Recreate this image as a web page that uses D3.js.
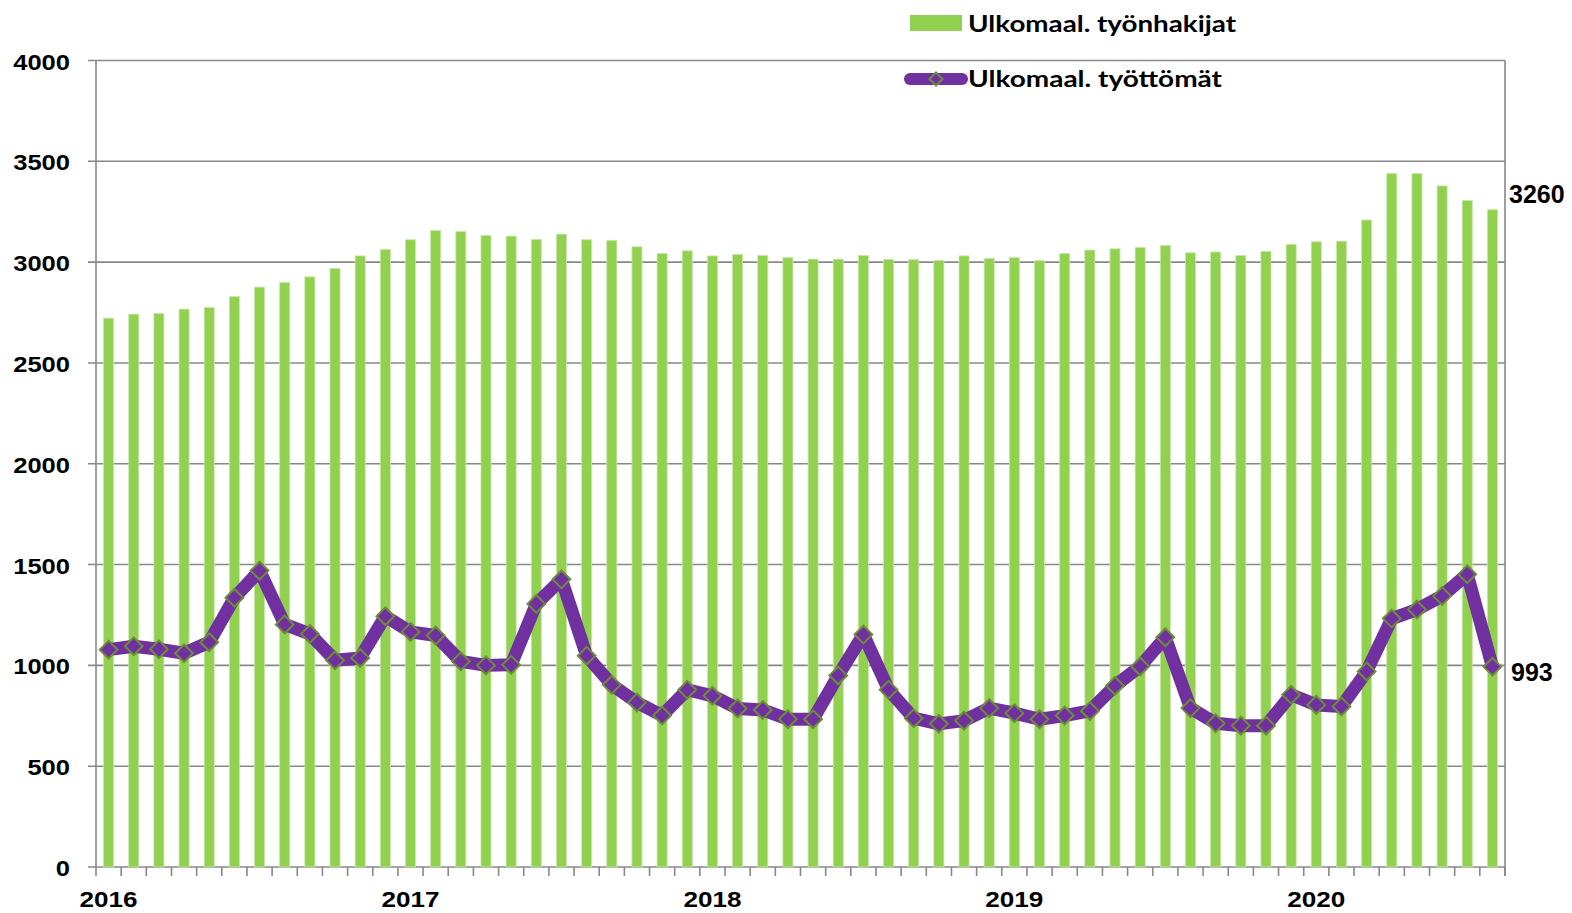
<!DOCTYPE html>
<html>
<head>
<meta charset="utf-8">
<script src="https://cdn.jsdelivr.net/npm/d3@7"></script>
<style>
  body { margin: 0; background: #fff; }
  text { font-family: "Liberation Sans", Arial, sans-serif; font-weight: bold; }
</style>
</head>
<body>
<script>
// months 2016/1 .. 2020/8
const months = [
  "2016/1", "2016/2", "2016/3", "2016/4", "2016/5", "2016/6", "2016/7", "2016/8", "2016/9", "2016/10", "2016/11", "2016/12",
  "2017/1", "2017/2", "2017/3", "2017/4", "2017/5", "2017/6", "2017/7", "2017/8", "2017/9", "2017/10", "2017/11", "2017/12",
  "2018/1", "2018/2", "2018/3", "2018/4", "2018/5", "2018/6", "2018/7", "2018/8", "2018/9", "2018/10", "2018/11", "2018/12",
  "2019/1", "2019/2", "2019/3", "2019/4", "2019/5", "2019/6", "2019/7", "2019/8", "2019/9", "2019/10", "2019/11", "2019/12",
  "2020/1", "2020/2", "2020/3", "2020/4", "2020/5", "2020/6", "2020/7", "2020/8"
];
const yearLabels = ["2016", "2017", "2018", "2019", "2020"];
const yTicks = [0, 500, 1000, 1500, 2000, 2500, 3000, 3500, 4000];

// Ulkomaal. työnhakijat (bars)
const hakijat = [
  2722, 2742, 2745, 2767, 2775, 2829, 2876, 2899, 2927, 2969, 3031, 3063,
  3111, 3157, 3152, 3132, 3129, 3113, 3139, 3111, 3108, 3076, 3043, 3056,
  3031, 3038, 3033, 3022, 3015, 3015, 3033, 3013, 3013, 3008, 3031, 3018,
  3022, 3007, 3043, 3060, 3066, 3073, 3083, 3046, 3050, 3033, 3053, 3088,
  3101, 3104, 3209, 3440, 3439, 3378, 3306, 3260
];
// Ulkomaal. työttömät (line)
const tyottomat = [
  1078, 1095, 1080, 1060, 1115, 1335, 1470, 1203, 1156, 1025, 1037, 1244,
  1166, 1148, 1020, 1000, 1003, 1305, 1427, 1048, 904, 816, 751, 879,
  849, 786, 779, 733, 733, 950, 1153, 879, 738, 710, 726, 788,
  763, 733, 751, 774, 899, 995, 1139, 788, 713, 701, 701, 854,
  804, 796, 970, 1232, 1277, 1344, 1452, 993
];

const width = 1572, height = 913;
const plotLeft = 96, plotRight = 1505, plotTop = 60.5, plotBottom = 867;
const gridColor = "#888888";

let svg = d3.select("body").append("svg")
  .attr("width", width)
  .attr("height", height);

let x = d3.scaleBand()
  .domain(months)
  .range([plotLeft, plotRight])
  .paddingInner(0.6)
  .paddingOuter(0.3);

let y = d3.scaleLinear()
  .domain([0, 4000])
  .range([plotBottom, plotTop]);

// gridlines
svg.append("g")
  .selectAll("line")
  .data(yTicks)
  .enter()
  .append("line")
  .attr("x1", plotLeft - 8)
  .attr("x2", plotRight)
  .attr("y1", d => y(d))
  .attr("y2", d => y(d))
  .attr("stroke", gridColor)
  .attr("stroke-width", 1.6);

// y labels
svg.append("g")
  .selectAll("text")
  .data(yTicks)
  .enter()
  .append("text")
  .attr("x", 70)
  .attr("y", d => y(d) + 9)
  .attr("text-anchor", "end")
  .attr("font-size", 22)
  .attr("textLength", d => String(d).length * 14.2)
  .attr("lengthAdjust", "spacingAndGlyphs")
  .text(d => d);

// bars
svg.append("g")
  .selectAll("rect")
  .data(hakijat)
  .enter()
  .append("rect")
  .attr("x", (d, i) => x(months[i]))
  .attr("width", x.bandwidth())
  .attr("y", d => y(d))
  .attr("height", d => y(0) - y(d))
  .attr("fill", "#92D050")
  .attr("stroke", "#C8E8A8")
  .attr("stroke-width", 0.8);

// axes frame
svg.append("line")
  .attr("x1", plotLeft).attr("x2", plotLeft)
  .attr("y1", plotTop).attr("y2", plotBottom)
  .attr("stroke", gridColor).attr("stroke-width", 1.6);
svg.append("line")
  .attr("x1", plotRight).attr("x2", plotRight)
  .attr("y1", plotTop).attr("y2", plotBottom + 9)
  .attr("stroke", gridColor).attr("stroke-width", 1.6);

// x tick marks at month boundaries
let step = x.step();
svg.append("g")
  .selectAll("line")
  .data(d3.range(months.length + 1))
  .enter()
  .append("line")
  .attr("x1", i => plotLeft + i * step)
  .attr("x2", i => plotLeft + i * step)
  .attr("y1", plotBottom)
  .attr("y2", plotBottom + 9)
  .attr("stroke", gridColor)
  .attr("stroke-width", 1.6);

// year labels under January
svg.append("g")
  .selectAll("text")
  .data(yearLabels)
  .enter()
  .append("text")
  .attr("x", d => x(d + "/1") + x.bandwidth() / 2)
  .attr("y", 907)
  .attr("text-anchor", "middle")
  .attr("font-size", 22)
  .attr("textLength", 58)
  .attr("lengthAdjust", "spacingAndGlyphs")
  .text(d => d);

// line
let line = d3.line()
  .x((d, i) => x(months[i]) + x.bandwidth() / 2)
  .y(d => y(d));

svg.append("path")
  .datum(tyottomat)
  .attr("d", line)
  .attr("fill", "none")
  .attr("stroke", "#7030A0")
  .attr("stroke-width", 13)
  .attr("stroke-linejoin", "round");

let diamond = d3.symbol().type(d3.symbolDiamond2).size(200);

svg.append("g")
  .selectAll("path")
  .data(tyottomat)
  .enter()
  .append("path")
  .attr("d", diamond)
  .attr("transform", (d, i) => `translate(${x(months[i]) + x.bandwidth() / 2},${y(d)})`)
  .attr("fill", "#7030A0")
  .attr("stroke", "#6E8C3A")
  .attr("stroke-width", 2);

// end value labels
svg.append("text")
  .attr("x", 1509)
  .attr("y", 203)
  .attr("font-size", 25)
  .text(hakijat[hakijat.length - 1]);

svg.append("text")
  .attr("x", 1511)
  .attr("y", 681)
  .attr("font-size", 25)
  .text(tyottomat[tyottomat.length - 1]);

// legend
let legend = svg.append("g");

legend.append("rect")
  .attr("x", 910).attr("y", 15)
  .attr("width", 52).attr("height", 16)
  .attr("fill", "#92D050");

legend.append("text")
  .attr("x", 968).attr("y", 32)
  .attr("font-size", 23)
  .attr("textLength", 268)
  .attr("lengthAdjust", "spacingAndGlyphs")
  .style("font-family", "Lato, 'Liberation Sans', sans-serif")
  .text("Ulkomaal. työnhakijat");

legend.append("line")
  .attr("x1", 910).attr("x2", 962)
  .attr("y1", 79).attr("y2", 79)
  .attr("stroke", "#7030A0")
  .attr("stroke-width", 12)
  .attr("stroke-linecap", "round");

legend.append("path")
  .attr("d", d3.symbol().type(d3.symbolDiamond2).size(110))
  .attr("transform", "translate(936,79)")
  .attr("fill", "#7030A0")
  .attr("stroke", "#6E8C3A")
  .attr("stroke-width", 2);

legend.append("text")
  .attr("x", 968).attr("y", 87)
  .attr("font-size", 23)
  .attr("textLength", 254)
  .attr("lengthAdjust", "spacingAndGlyphs")
  .style("font-family", "Lato, 'Liberation Sans', sans-serif")
  .text("Ulkomaal. työttömät");
</script>
</body>
</html>
